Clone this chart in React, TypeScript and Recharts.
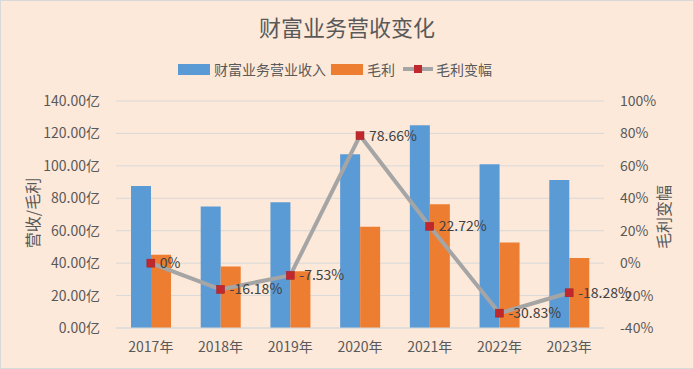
import React from "react";
import { ComposedChart, Bar, Line, XAxis, YAxis, CartesianGrid, LabelList } from "recharts";

const years = ["2017年", "2018年", "2019年", "2020年", "2021年", "2022年", "2023年"];
const revenue = [87.6, 75.0, 77.5, 107.2, 125.1, 101.0, 91.3];
const grossProfit = [45.2, 37.9, 35.0, 62.4, 76.3, 52.8, 43.1];
const profitChange = [0, -16.18, -7.53, 78.66, 22.72, -30.83, -18.28];
const leftTicks = [0, 20, 40, 60, 80, 100, 120, 140];
const rightTicks = [-40, -20, 0, 20, 40, 60, 80, 100];

const rows = years.map((y, i) => ({
  year: y,
  revenue: revenue[i],
  gross: grossProfit[i],
  change: profitChange[i],
}));

const FONT = '"Noto Sans CJK SC", "Noto Sans", sans-serif';
const TXT = "#595959";

const SquareDot = (p: any) => {
  if (p.cx == null || p.cy == null) return <g key={p.index} />;
  return (
    <rect key={p.index} x={p.cx - 4} y={p.cy - 4} width={8} height={8} fill="#C0282D" stroke="#A02024" strokeWidth={0.5} />
  );
};

const LegendBox = () => (
  <div style={{ position: "absolute", left: 0, right: 0, top: 58, display: "flex", justifyContent: "center", alignItems: "center", fontSize: 14, color: TXT, marginLeft: -24 }}>
    <span style={{ width: 32, height: 11, background: "#5B9BD5", marginRight: 4 }} />
    <span style={{ marginRight: 5 }}>财富业务营业收入</span>
    <span style={{ width: 32, height: 11, background: "#ED7D31", marginRight: 4 }} />
    <span style={{ marginRight: 8 }}>毛利</span>
    <svg width={30} height={12} style={{ marginRight: 3 }}>
      <line x1={0} y1={6} x2={30} y2={6} stroke="#A5A5A5" strokeWidth={4} />
      <rect x={11} y={2} width={8} height={8} fill="#C0282D" />
    </svg>
    <span>毛利变幅</span>
  </div>
);

export default function App() {
  return (
    <div style={{ position: "absolute", left: 0, top: 0, width: 694, height: 369, boxSizing: "border-box", border: "1px solid #D9D9D9", background: "#FDE9D9", fontFamily: FONT }}>
      <div style={{ position: "absolute", left: 0, right: 0, top: 9, textAlign: "center", fontSize: 22, color: TXT }}>财富业务营收变化</div>
      <LegendBox />
      <div style={{ position: "absolute", left: 31, top: 212, transform: "translate(-50%, -50%) rotate(-90deg)", fontSize: 16, color: TXT, whiteSpace: "nowrap" }}>营收/毛利</div>
      <div style={{ position: "absolute", left: 662, top: 216, transform: "translate(-50%, -50%) rotate(-90deg)", fontSize: 16, color: TXT, whiteSpace: "nowrap" }}>毛利变幅</div>
      <div style={{ position: "absolute", left: -1, top: -1 }}>
        <ComposedChart width={694} height={369} data={rows} margin={{ top: 101, right: 30, bottom: 11, left: 20 }} barGap={0}>
          <CartesianGrid yAxisId="left" vertical={false} stroke="#D9D9D9" />
          <XAxis dataKey="year" tickLine={false} axisLine={{ stroke: "#D9D9D9" }} tick={{ fill: TXT, fontSize: 14 }} tickMargin={8} height={30} />
          <YAxis yAxisId="left" domain={[0, 140]} ticks={leftTicks} width={96} tickLine={false} axisLine={false} tickMargin={10}
            tick={{ fill: TXT, fontSize: 14 }} tickFormatter={(v: number) => v.toFixed(2) + "亿"} />
          <YAxis yAxisId="right" orientation="right" domain={[-40, 100]} ticks={rightTicks} width={60} tickLine={false} axisLine={false} tickMargin={10}
            tick={{ fill: TXT, fontSize: 14, textAnchor: "start" }} tickFormatter={(v: number) => v + "%"} />
          <Bar yAxisId="left" dataKey="revenue" name="财富业务营业收入" fill="#5B9BD5" barSize={20} isAnimationActive={false} />
          <Bar yAxisId="left" dataKey="gross" name="毛利" fill="#ED7D31" barSize={20} isAnimationActive={false} />
          <Line yAxisId="right" dataKey="change" name="毛利变幅" stroke="#A5A5A5" strokeWidth={4} dot={SquareDot} activeDot={false} isAnimationActive={false}>
            <LabelList dataKey="change" position="right" offset={9} fill="#404040" fontSize={14} formatter={(v: any) => v + "%"} />
          </Line>
        </ComposedChart>
      </div>
    </div>
  );
}
